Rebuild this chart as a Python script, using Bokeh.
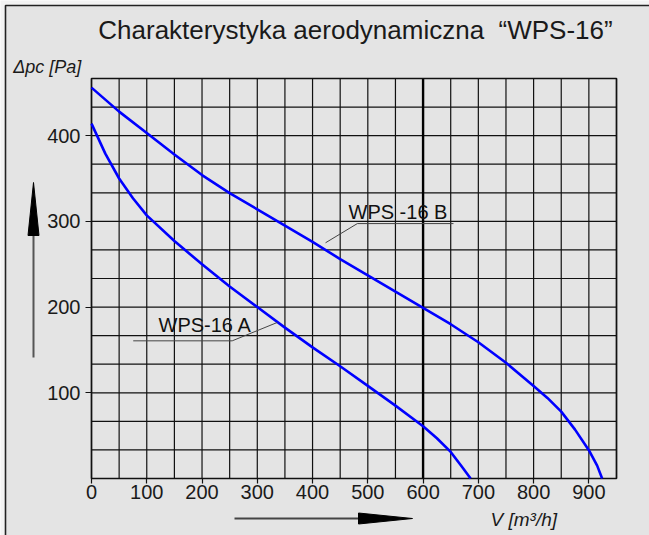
from bokeh.plotting import figure
from bokeh.models import Label, Arrow, PolyAnnotation, FixedTicker, Range1d
from bokeh.embed import file_html
from bokeh.resources import INLINE

# ---- data ----
title_text = "Charakterystyka aerodynamiczna \u00a0\u201cWPS-16\u201d"
y_label = "\u0394pc [Pa]"
x_label = "V [m\u00b3/h]"

x_ticks = [0, 100, 200, 300, 400, 500, 600, 700, 800, 900]
y_ticks = [100, 200, 300, 400]
grid_x = [0, 50, 100, 150, 200, 250, 300, 350, 400, 450, 500, 550, 600, 650, 700, 750, 800, 850, 900, 950]
grid_y = [i * 100 / 3 for i in range(15)]
highlight_v = 600

# WPS-16 A
a_v = [0, 25, 50, 75, 100, 150, 200, 250, 300, 350, 400, 450, 500, 550, 600, 625, 650, 670, 686]
a_dp = [414, 379, 350, 327, 307, 277, 250, 224, 200, 176, 153, 131, 108, 85, 61, 47, 31, 14, 0]
# WPS-16 B
b_v = [0, 50, 100, 150, 200, 250, 300, 350, 400, 450, 500, 550, 600, 650, 700, 750, 800, 825, 850, 875, 900, 915, 924]
b_dp = [456, 428, 403, 378, 354, 333, 314, 295, 276, 256, 237, 218, 199, 180, 159, 135, 108, 94, 78, 57, 33, 15, 0]

label_a = "WPS-16 A"
label_b = "WPS -16 B"
leader_a_v = [336, 254.6, 75.5]
leader_a_dp = [182, 160.6, 160.6]
leader_b_v = [423.5, 481, 655]
leader_b_dp = [275, 297.4, 297.4]

X_MAX = 950
Y_MAX = 1400 / 3

# ---- layout helpers (pixel position -> plot units) ----
W, H = 649, 535
FL, FB = 91, 478          # chart-area left / bottom in pixels
SX = 525 / X_MAX
SY = 400 / Y_MAX


def dx(px):
    return (px - FL) / SX


def dy(py):
    return (FB - py) / SY


BG = "#e4e4e4"
FONT = "Liberation Sans"
INK = "#111111"

p = figure(width=W, height=H,
           x_range=Range1d(dx(0), dx(W)), y_range=Range1d(dy(H), dy(0)),
           output_backend="svg", toolbar_location=None, min_border=0)
p.outline_line_color = None
p.background_fill_color = "#f3f3f3"
p.border_fill_color = "#f3f3f3"
p.xgrid.visible = False
p.ygrid.visible = False

# page panel with left/top border
p.quad(left=[dx(5)], right=[dx(W + 10)], top=[dy(5)], bottom=[dy(H + 10)],
       fill_color=BG, line_color="#222222", line_width=1.6)

# grid
p.segment(x0=grid_x, y0=[0] * len(grid_x), x1=grid_x, y1=[Y_MAX] * len(grid_x),
          line_color=INK, line_width=1.2)
p.segment(x0=[0] * len(grid_y), y0=grid_y, x1=[X_MAX] * len(grid_y), y1=grid_y,
          line_color=INK, line_width=1.2)
p.segment(x0=[highlight_v], y0=[0], x1=[highlight_v], y1=[Y_MAX],
          line_color="#000000", line_width=2.4)
p.quad(left=[0], right=[X_MAX], bottom=[0], top=[Y_MAX], fill_color=None,
       line_color=INK, line_width=1.6)

# axes fixed at the chart edges
p.xaxis.fixed_location = 0
p.yaxis.fixed_location = 0
p.xaxis.bounds = (0, X_MAX)
p.yaxis.bounds = (0, Y_MAX)
p.xaxis.ticker = FixedTicker(ticks=x_ticks)
p.yaxis.ticker = FixedTicker(ticks=y_ticks)
for ax in (p.xaxis, p.yaxis):
    ax.major_tick_in = 0
    ax.minor_tick_in = 0
    ax.minor_tick_out = 0
    ax.axis_line_color = None
    ax.major_tick_line_color = INK
    ax.major_tick_line_width = 1.2
    ax.major_label_text_font = FONT
    ax.major_label_text_font_size = "20px"
    ax.major_label_text_color = "#1a1a1a"
p.xaxis.major_tick_out = 5
p.xaxis.major_label_standoff = 1
p.yaxis.major_tick_out = 6
p.yaxis.major_label_standoff = 5

# curves
p.line(a_v, a_dp, line_color="#0000ff", line_width=2.6, line_join="round")
p.line(b_v, b_dp, line_color="#0000ff", line_width=2.6, line_join="round")

# leaders
p.line(leader_a_v, leader_a_dp, line_color="#444444", line_width=1)
p.line(leader_b_v, leader_b_dp, line_color="#444444", line_width=1)

p.add_layout(Label(x=dx(158), y=dy(324), text=label_a, text_font=FONT, text_font_size="20px",
                   text_color=INK, text_align="left", text_baseline="middle"))
p.add_layout(Label(x=dx(348), y=dy(211), text=label_b, text_font=FONT, text_font_size="20px",
                   text_color=INK, text_align="left", text_baseline="middle"))

# title and axis labels
p.add_layout(Label(x=dx(355), y=dy(29.5), text=title_text, text_font=FONT, text_font_size="26px",
                   text_color="#1a1a1a", text_align="center", text_baseline="middle"))
p.add_layout(Label(x=dx(12.7), y=dy(66.7), text=y_label, text_font=FONT, text_font_size="18px",
                   text_font_style="italic", text_color="#1a1a1a", text_align="left",
                   text_baseline="middle"))
p.add_layout(Label(x=dx(490), y=dy(519), text=x_label, text_font=FONT, text_font_size="19px",
                   text_font_style="italic", text_color="#1a1a1a", text_align="left",
                   text_baseline="middle"))

# direction arrows
p.add_layout(Arrow(x_start=dx(33), y_start=dy(357), x_end=dx(33), y_end=dy(235), end=None,
                   line_color="#555555", line_width=2))
p.add_layout(PolyAnnotation(xs=[dx(27.5), dx(38.5), dx(33)], ys=[dy(235), dy(235), dy(182)],
                            fill_color="#000000", fill_alpha=1, line_color="#000000", line_alpha=1))
p.add_layout(Arrow(x_start=dx(234), y_start=dy(518), x_end=dx(358), y_end=dy(518), end=None,
                   line_color="#444444", line_width=2))
p.add_layout(PolyAnnotation(xs=[dx(358), dx(358), dx(412)], ys=[dy(512.5), dy(523.5), dy(518)],
                            fill_color="#000000", fill_alpha=1, line_color="#000000", line_alpha=1))

open("out.html", "w").write(file_html(p, INLINE))
